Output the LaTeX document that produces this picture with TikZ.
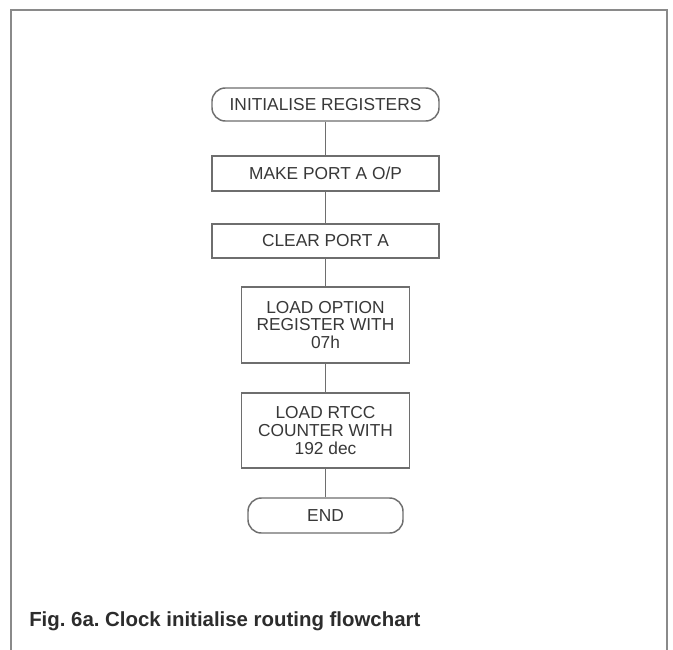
\documentclass[tikz,border=0pt]{standalone}
\usepackage{fontspec}
\setmainfont{Liberation Sans}
\begin{document}
\begin{tikzpicture}[x=0.75pt,y=-0.75pt,
  every node/.style={font=\fontsize{13pt}{13.2pt}\selectfont, text=txt},
  procbox/.style={draw=ln, line width=1.1pt, align=center, inner sep=0pt, minimum width=170.25pt},
  termbox/.style={draw=ln, line width=1.1pt, rounded corners=10pt, inner sep=0pt},
  link/.style={draw=ln, line width=1.1pt}]
\definecolor{ln}{HTML}{6E6E6E}
\definecolor{txt}{HTML}{383838}
\definecolor{frm}{HTML}{8A8A8A}
\definecolor{cap}{HTML}{2C2C2C}
\useasboundingbox (0,0) rectangle (673,649);
\fill[white] (0,0) rectangle (673,649);
\draw[frm, line width=1.5pt] (11,660) -- (11,10) -- (667,10) -- (667,660);

\node[termbox, minimum width=170.25pt, minimum height=24.75pt] (init) at (325.5,104.5) {INITIALISE REGISTERS};
\node[procbox, minimum height=26.25pt] (mk) at (325.5,173.5) {MAKE PORT A O/P};
\node[procbox, minimum height=25.5pt] (clr) at (325.5,241) {CLEAR PORT A};
\node[procbox, minimum width=126pt, minimum height=57pt] (opt) at (325.5,325) {LOAD OPTION\\REGISTER WITH\\07h};
\node[procbox, minimum width=126pt, minimum height=56.25pt] (rtcc) at (325.5,430.5) {LOAD RTCC\\COUNTER WITH\\192 dec};
\node[termbox, minimum width=116.25pt, minimum height=26.25pt] (end) at (325.5,515.5) {END};

\draw[link] (init) -- (mk);
\draw[link] (mk) -- (clr);
\draw[link] (clr) -- (opt);
\draw[link] (opt) -- (rtcc);
\draw[link] (rtcc) -- (end);

\node[anchor=base west, inner sep=0pt, text=cap, font=\fontsize{15.3pt}{18pt}\selectfont\bfseries\frenchspacing] (caption) at (29,626) {Fig. 6a. Clock initialise routing flowchart};
\end{tikzpicture}
\end{document}
